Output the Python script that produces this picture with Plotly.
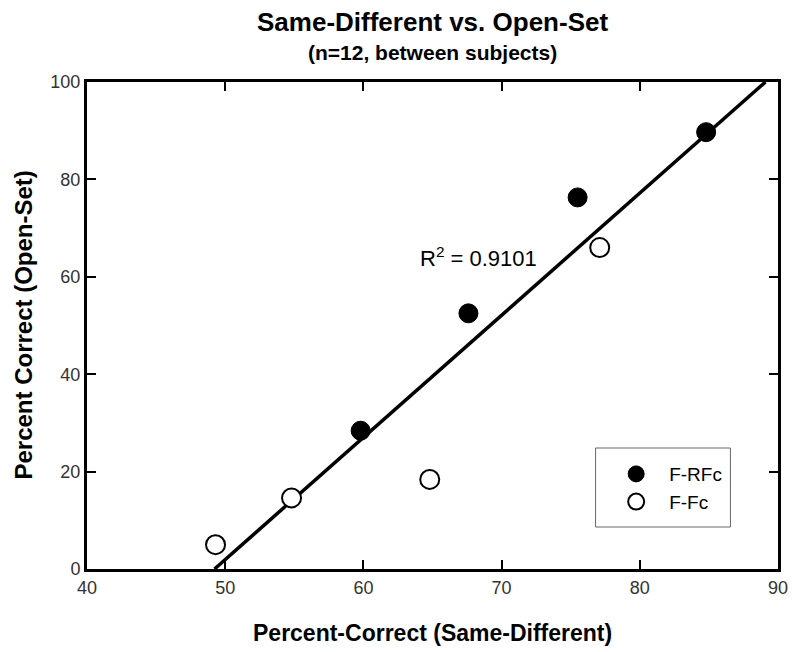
import numpy as np
import plotly.graph_objects as go

# Data
frfc_x = [59.8, 67.6, 75.5, 84.8]
frfc_y = [28.4, 52.5, 76.3, 89.7]
ffc_x = [49.3, 54.8, 64.8, 77.1]
ffc_y = [5.0, 14.6, 18.4, 66.0]
x_ticks = [40, 50, 60, 70, 80, 90]
y_ticks = [0, 20, 40, 60, 80, 100]
r2_label = "R<sup>2</sup> = 0.9101"

all_x = np.array(frfc_x + ffc_x)
all_y = np.array(frfc_y + ffc_y)
m, b = np.polyfit(all_x, all_y, 1)
fit_x = [(0 - b) / m, (100 - b) / m]
fit_y = [0, 100]

FONT = "Liberation Sans, Arial, Helvetica, sans-serif"

fig = go.Figure()
fig.add_trace(go.Scatter(x=fit_x, y=fit_y, mode="lines",
                         line=dict(color="black", width=3.5),
                         showlegend=False, hoverinfo="skip", cliponaxis=True))
fig.add_trace(go.Scatter(x=frfc_x, y=frfc_y, mode="markers", name="F-RFc",
                         marker=dict(symbol="circle", size=19, color="black",
                                     line=dict(color="black", width=1))))
fig.add_trace(go.Scatter(x=ffc_x, y=ffc_y, mode="markers", name="F-Fc",
                         marker=dict(symbol="circle", size=19, color="white",
                                     line=dict(color="black", width=2))))

axis_common = dict(showgrid=False, zeroline=False, showline=True, linecolor="black",
                   linewidth=3, mirror="allticks", ticks="inside", ticklen=9,
                   tickwidth=2, tickcolor="black",
                   tickfont=dict(family=FONT, size=18, color="#333"))

fig.update_xaxes(range=[40, 90], tickvals=x_ticks, **axis_common)
fig.update_yaxes(range=[0, 100], tickvals=y_ticks, **axis_common)

fig.update_layout(
    width=800, height=652,
    margin=dict(l=87, r=16, t=82, b=83),
    paper_bgcolor="white", plot_bgcolor="white",
    font=dict(family=FONT, color="black"),
    showlegend=True,
    legend=dict(x=0.747, y=0.234, xanchor="left", yanchor="top",
                bgcolor="rgba(0,0,0,0)", borderwidth=0,
                font=dict(family=FONT, size=19, color="black"),
                itemsizing="trace", itemwidth=56, tracegroupgap=0),
    shapes=[dict(type="rect", xref="paper", yref="paper",
                 x0=(600 - 87) / 697, x1=(736 - 87) / 697,
                 y0=(569 - 527) / 487, y1=(569 - 448) / 487,
                 line=dict(color="#666", width=1))],
    annotations=[
        dict(text="<b>Same-Different vs. Open-Set</b>", xref="paper", yref="paper",
             x=0.5, y=(569 - 22) / 487, xanchor="center", yanchor="middle",
             showarrow=False, font=dict(family=FONT, size=26, color="black")),
        dict(text="<b>(n=12, between subjects)</b>", xref="paper", yref="paper",
             x=0.5, y=(569 - 52) / 487, xanchor="center", yanchor="middle",
             showarrow=False, font=dict(family=FONT, size=21, color="black")),
        dict(text="<b>Percent-Correct (Same-Different)</b>", xref="paper", yref="paper",
             x=0.5, y=(569 - 633) / 487, xanchor="center", yanchor="middle",
             showarrow=False, font=dict(family=FONT, size=23, color="black")),
        dict(text="<b>Percent Correct (Open-Set)</b>", xref="paper", yref="paper",
             x=(22 - 87) / 697, y=(569 - 325) / 487, xanchor="center", yanchor="middle",
             textangle=-90, showarrow=False,
             font=dict(family=FONT, size=24, color="black")),
        dict(text=r2_label, xref="paper", yref="paper",
             x=(482 - 87) / 697, y=(569 - 257) / 487, xanchor="center", yanchor="middle",
             showarrow=False, font=dict(family=FONT, size=22, color="black")),
    ],
)

fig.write_html("out.html", config={"displayModeBar": False},
               post_script="document.body.style.margin='0px';")
